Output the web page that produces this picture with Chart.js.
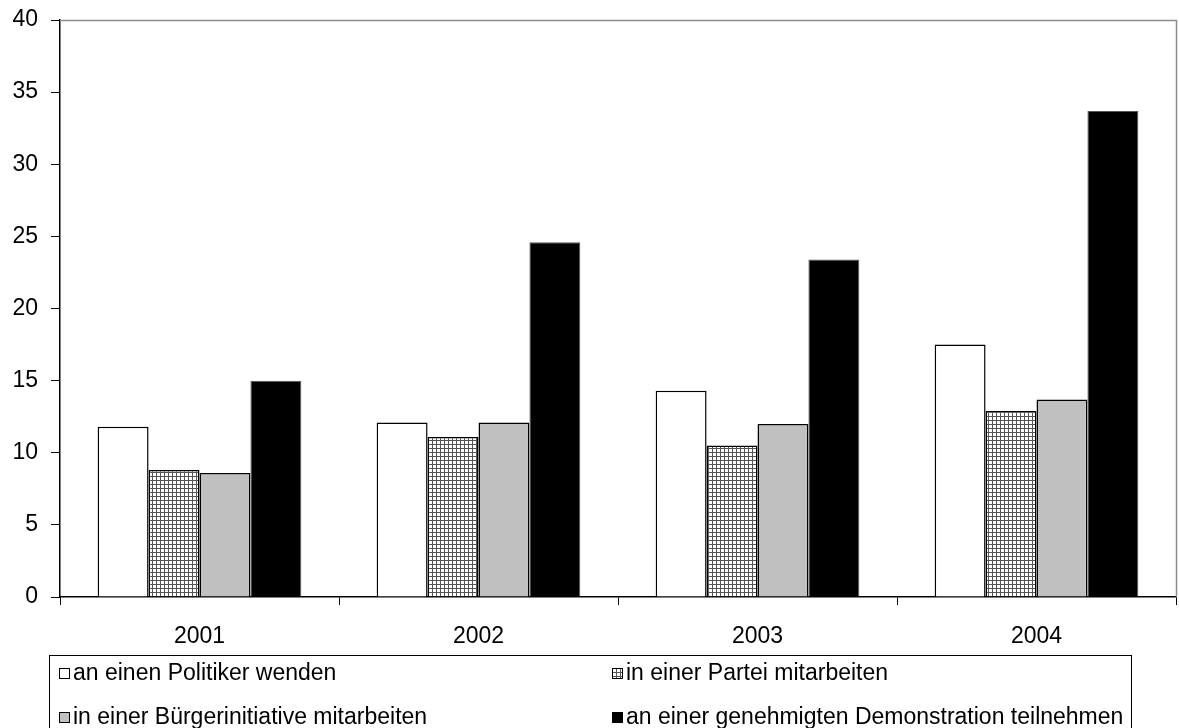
<!DOCTYPE html>
<html>
<head>
<meta charset="utf-8">
<script src="https://cdn.jsdelivr.net/npm/chart.js@4.4.1/dist/chart.umd.min.js"></script>
<style>
  html, body { margin: 0; padding: 0; background: #fff; }
  #wrap { width: 1179px; height: 728px; }
</style>
</head>
<body>
<div id="wrap"><canvas id="myChart" width="1179" height="728"></canvas></div>
<script>
// categories and values
var years = ["2001", "2002", "2003", "2004"];
var seriesNames = [
   "an einen Politiker wenden",
   "in einer Partei mitarbeiten",
   "in einer Bürgerinitiative mitarbeiten",
   "an einer genehmigten Demonstration teilnehmen"
];
var politiker = [11.8, 12.1, 14.3, 17.5];
var partei = [8.8, 11.1, 10.5, 12.9];
var buergerinitiative = [8.6, 12.1, 12.0, 13.7];
var demonstration = [15.0, 24.6, 23.4, 33.7];
var yTicks = [0, 5, 10, 15, 20, 25, 30, 35, 40];

var FONT = "'Liberation Sans', Arial, sans-serif";

// small grid pattern for the "Partei" bars
function makeHatch() {
   var c = document.createElement("canvas");
   c.width = 4; c.height = 4;
   var g = c.getContext("2d");
   g.fillStyle = "#fff";
   g.fillRect(0, 0, 4, 4);
   g.fillStyle = "#555";
   g.fillRect(0, 0, 4, 1);
   g.fillRect(0, 0, 1, 4);
   return g.createPattern(c, "repeat");
}
var hatch = makeHatch();

// gray frame on top and right of the plot area
var framePlugin = {
   id: "frame",
   beforeDatasetsDraw: function(chart) {
      var a = chart.chartArea, ctx = chart.ctx;
      ctx.save();
      ctx.strokeStyle = "#8c8c8c";
      ctx.lineWidth = 1.5;
      ctx.beginPath();
      ctx.moveTo(a.left, a.top + 0.5);
      ctx.lineTo(a.right + 0.5, a.top + 0.5);
      ctx.lineTo(a.right + 0.5, a.bottom);
      ctx.stroke();
      ctx.restore();
   }
};

// boxed legend, two columns
var legendBox = {
   id: "legendBox",
   afterDraw: function(chart) {
      var ctx = chart.ctx;
      var sets = chart.data.datasets;
      var colX = [59, 612];
      var rowY = [673, 717];
      ctx.save();
      ctx.strokeStyle = "#000";
      ctx.lineWidth = 1;
      ctx.strokeRect(49.5, 655.5, 1082, 75);
      ctx.font = "23px " + FONT;
      ctx.textBaseline = "middle";
      ctx.textAlign = "left";
      for (var i = 0; i < sets.length; i++) {
         var x = colX[i % 2], y = rowY[Math.floor(i / 2)];
         ctx.fillStyle = sets[i].backgroundColor;
         ctx.fillRect(x, y - 5, 11, 11);
         ctx.strokeStyle = "#000";
         ctx.strokeRect(x + 0.5, y - 4.5, 10, 10);
         ctx.fillStyle = "#000";
         ctx.fillText(sets[i].label, x + 14, y + 1);
      }
      ctx.restore();
   }
};

var ctx = document.getElementById("myChart").getContext("2d");
var chart = new Chart(ctx, {
   type: "bar",
   data: {
      labels: years,
      datasets: [
         { label: seriesNames[0], data: politiker, backgroundColor: "#ffffff", borderColor: "#000", borderWidth: 1.5 },
         { label: seriesNames[1], data: partei, backgroundColor: hatch, borderColor: "#000", borderWidth: 1.5 },
         { label: seriesNames[2], data: buergerinitiative, backgroundColor: "#c0c0c0", borderColor: "#000", borderWidth: 1.5 },
         { label: seriesNames[3], data: demonstration, backgroundColor: "#000000", borderColor: "#555", borderWidth: 1 }
      ]
   },
   options: {
      responsive: false,
      animation: false,
      layout: { padding: { top: 20, right: 3, bottom: 0, left: 0 } },
      datasets: { bar: { categoryPercentage: 0.73, barPercentage: 1.0, borderSkipped: "bottom" } },
      plugins: { legend: { display: false }, tooltip: { enabled: false } },
      scales: {
         x: {
            offset: true,
            grid: { offset: true, drawOnChartArea: false, drawTicks: true, tickLength: 8, color: "#000", lineWidth: 1 },
            border: { color: "#000", width: 1.5 },
            ticks: { color: "#000", padding: 18, font: { family: FONT, size: 23 } },
            afterFit: function(s) { s.height = 131; }
         },
         y: {
            min: 0,
            max: 40,
            afterBuildTicks: function(s) { s.ticks = yTicks.map(function(v) { return { value: v }; }); },
            grid: { drawOnChartArea: false, drawTicks: true, tickLength: 9, color: "#000", lineWidth: 1 },
            border: { color: "#000", width: 1.5 },
            ticks: { color: "#000", padding: 13, font: { family: FONT, size: 23 } },
            afterFit: function(s) { s.width = 60; s.paddingTop = 0; s.paddingBottom = 0; }
         }
      }
   },
   plugins: [framePlugin, legendBox]
});
</script>
</body>
</html>
